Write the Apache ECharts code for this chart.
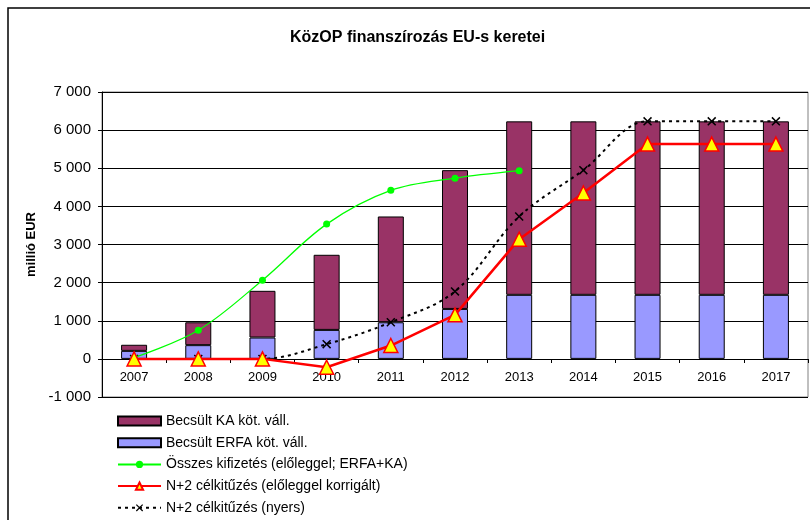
<!DOCTYPE html>
<html>
<head>
<meta charset="utf-8">
<script src="https://cdn.jsdelivr.net/npm/echarts@6/dist/echarts.min.js"></script>
<style>html,body{margin:0;padding:0;background:#fff;}#c{width:810px;height:520px;}</style>
</head>
<body>
<div id="c"></div>
<script>
const titleText = 'KözOP finanszírozás EU-s keretei';
const yAxisName = 'millió EUR';
const categories = ['2007','2008','2009','2010','2011','2012','2013','2014','2015','2016','2017'];
const erfa = [210, 360, 560, 760, 960, 1310, 1680, 1680, 1680, 1680, 1680];
const ka = [160, 600, 1225, 1970, 2775, 3640, 4550, 4550, 4550, 4550, 4550];
const osszes = [30, 750, 2065, 3535, 4420, 4740, 4935, null, null, null, null];
const n2korr = [0, 0, 0, -220, 350, 1155, 3140, 4350, 5635, 5635, 5635];
const n2nyers = [0, 0, 0, 385, 960, 1770, 3735, 4950, 6230, 6230, 6230];
const seriesNames = ['Becsült KA köt. váll.', 'Becsült ERFA köt. váll.', 'Összes kifizetés (előleggel; ERFA+KA)', 'N+2 célkitűzés (előleggel korrigált)', 'N+2 célkitűzés (nyers)'];

const font = 'Arial, "Liberation Sans", sans-serif';
const xMark = 'path://M0,1.2L1.2,0L5,3.8L8.8,0L10,1.2L6.2,5L10,8.8L8.8,10L5,6.2L1.2,10L0,8.8L3.8,5Z';

const chart = echarts.init(document.getElementById('c'), null, {renderer: 'canvas'});
chart.setOption({
  animation: false,
  backgroundColor: '#fff',
  title: {
    text: titleText, left: 285, top: 25,
    textStyle: {fontFamily: font, fontSize: 16, fontWeight: 'bold', color: '#000'}
  },
  graphic: [{
    type: 'rect', shape: {x: 8, y: 8, width: 820, height: 540},
    style: {fill: 'none', stroke: '#000', lineWidth: 1.5}, silent: true, z: 100
  }],
  grid: {left: 102, right: 2, top: 92, bottom: 123, show: true, borderColor: '#808080', borderWidth: 1, containLabel: false},
  legend: {
    orient: 'vertical', left: 117, top: 414, padding: 0, itemGap: 7.7, itemWidth: 43, itemHeight: 9,
    textStyle: {fontFamily: font, fontSize: 14, color: '#000'},
    data: [
      {name: seriesNames[0], icon: 'rect'},
      {name: seriesNames[1], icon: 'rect'},
      {name: seriesNames[2]},
      {name: seriesNames[3]},
      {name: seriesNames[4]}
    ]
  },
  xAxis: {
    type: 'category', data: categories, boundaryGap: true, offset: -38,
    axisLine: {onZero: false, lineStyle: {color: '#000', width: 1}},
    axisTick: {show: true, length: 4, alignWithLabel: false, lineStyle: {color: '#000'}},
    axisLabel: {fontFamily: font, fontSize: 13, color: '#000', margin: 12},
    splitLine: {show: false}
  },
  yAxis: {
    type: 'value', min: -1000, max: 7000, interval: 1000,
    name: yAxisName, nameLocation: 'middle', nameGap: 61, nameRotate: 90,
    nameTextStyle: {fontFamily: font, fontSize: 13, fontWeight: 'bold', color: '#000'},
    axisLine: {show: true, lineStyle: {color: '#000', width: 1}},
    axisTick: {show: true, length: 4, lineStyle: {color: '#000'}},
    axisLabel: {fontFamily: font, fontSize: 15, color: '#000', margin: 11,
      formatter: v => { const s = String(Math.abs(v)).replace(/\B(?=(\d{3})+(?!\d))/g, ' '); return (v < 0 ? '-' : '') + s; }},
    splitLine: {show: true, lineStyle: {color: '#000', width: 1}}
  },
  series: [
    {name: seriesNames[1], type: 'bar', stack: 'a', data: erfa, barWidth: 26, z: 2,
      itemStyle: {color: '#9999FF', borderColor: '#000', borderWidth: 1}},
    {name: seriesNames[0], type: 'bar', stack: 'a', data: ka, barWidth: 26, z: 2,
      itemStyle: {color: '#993366', borderColor: '#000', borderWidth: 1}},
    {name: seriesNames[2], type: 'line', data: osszes, smooth: 0.35, z: 5,
      symbol: 'circle', symbolSize: 7, showAllSymbol: true,
      lineStyle: {color: '#00FF00', width: 1.3}, itemStyle: {color: '#00FF00'}},
    {name: seriesNames[4], type: 'line', data: n2nyers, smooth: 0.35, z: 4,
      symbol: xMark, symbolSize: 9, showAllSymbol: true,
      lineStyle: {color: '#000', width: 2, type: [3, 4]}, itemStyle: {color: '#000'}},
    {name: seriesNames[3], type: 'line', data: n2korr, z: 6,
      symbol: 'triangle', symbolSize: 14, showAllSymbol: true,
      lineStyle: {color: '#FF0000', width: 2.5}, itemStyle: {color: '#FFFF00', borderColor: '#FF0000', borderWidth: 1.5}}
  ]
});
</script>
</body>
</html>
